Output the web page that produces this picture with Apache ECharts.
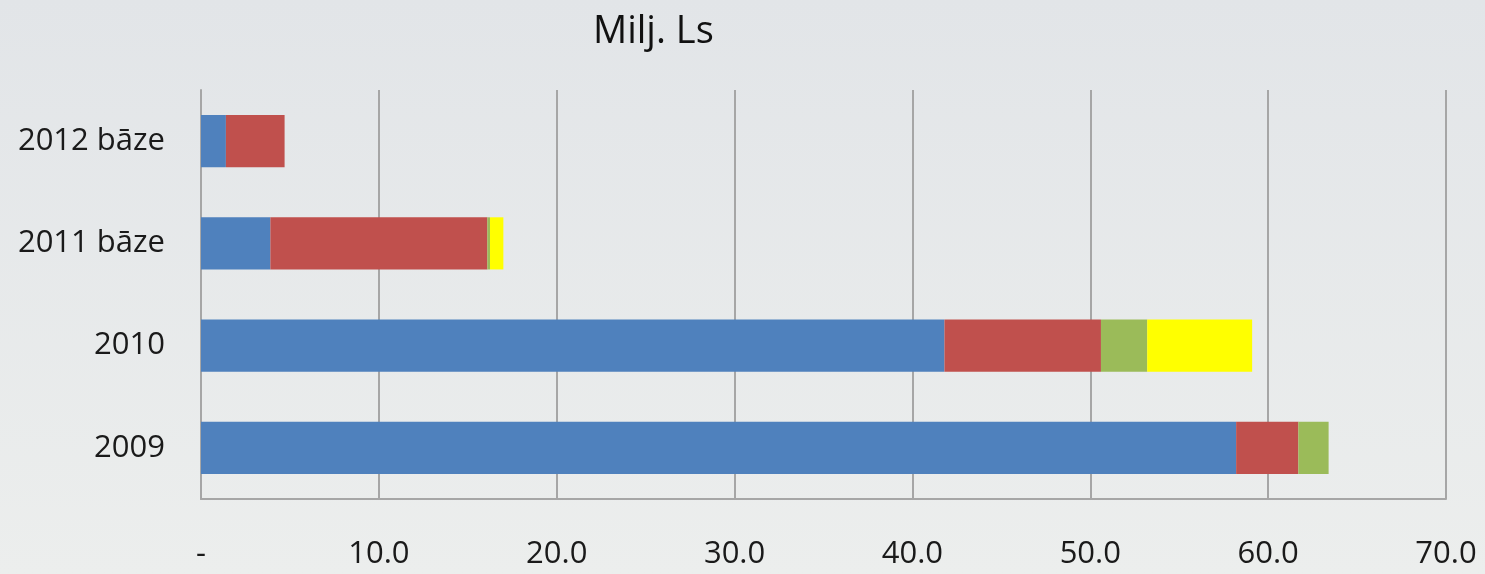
<!DOCTYPE html>
<html>
<head>
<meta charset="utf-8">
<script src="https://cdn.jsdelivr.net/npm/echarts@6/dist/echarts.min.js"></script>
<style>
  html, body { margin: 0; padding: 0; }
  #chart { width: 1485px; height: 574px; background: linear-gradient(#e2e5e8, #eceeed); }
</style>
</head>
<body>
<div id="chart"></div>
<script>
// kategorijas (no apakšas uz augšu)
var categories = ['2009', '2010', '2011 bāze', '2012 bāze'];
var blueVals = [58.2, 41.8, 3.9, 1.4];
var redVals = [3.5, 8.8, 12.2, 3.3];
var greenVals = [1.7, 2.6, 0.15, 0];
var yellowVals = [0, 5.9, 0.75, 0];
var xTicks = [0, 10, 20, 30, 40, 50, 60, 70];

var font = '"Open Sans", sans-serif';

function bar(name, data, color) {
    return {
        name: name,
        type: 'bar',
        stack: 'total',
        barWidth: '51%',
        data: data,
        itemStyle: { color: color }
    };
}

var option = {
    animation: false,
    title: {
        text: 'Milj. Ls',
        left: 588,
        top: 8,
        textStyle: { fontFamily: font, fontSize: 38, fontWeight: 'normal', color: '#111' }
    },
    grid: {
        left: 201,
        right: 39,
        top: 90,
        bottom: 75
    },
    xAxis: {
        type: 'value',
        min: xTicks[0],
        max: xTicks[xTicks.length - 1],
        interval: 10,
        axisLine: { show: true, lineStyle: { color: '#a6a6a6', width: 2 } },
        axisTick: { show: false },
        splitLine: { show: true, lineStyle: { color: '#a6a6a6', width: 2 } },
        axisLabel: {
            margin: 40,
            fontFamily: font,
            fontSize: 31,
            color: '#1a1a1a',
            formatter: function (v) { return v === 0 ? '-' : v.toFixed(1); }
        }
    },
    yAxis: {
        type: 'category',
        data: categories,
        axisLine: { show: true, lineStyle: { color: '#a6a6a6', width: 2 } },
        axisTick: { show: false },
        axisLabel: {
            margin: 36,
            fontFamily: font,
            fontSize: 31,
            color: '#1a1a1a'
        }
    },
    series: [
        bar('blue', blueVals, '#4f81bd'),
        bar('red', redVals, '#c0504d'),
        bar('green', greenVals, '#9bbb59'),
        bar('yellow', yellowVals, '#ffff00')
    ]
};

var myChart = echarts.init(document.getElementById('chart'));
myChart.setOption(option);
window.addEventListener('resize', function () {
    myChart.resize();
});
</script>
</body>
</html>
